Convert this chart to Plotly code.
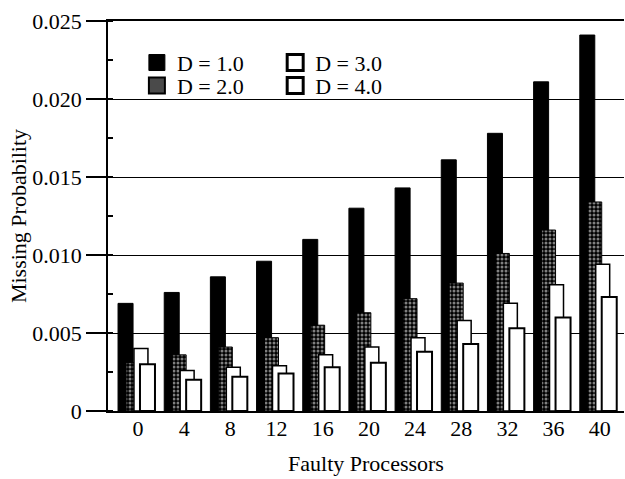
import plotly.graph_objects as go

processors = [0, 4, 8, 12, 16, 20, 24, 28, 32, 36, 40]
d1_values = [0.0069, 0.0076, 0.0086, 0.0096, 0.0110, 0.0130, 0.0143, 0.0161, 0.0178, 0.0211, 0.0241]
d2_values = [0.0031, 0.0036, 0.0041, 0.0047, 0.0055, 0.0063, 0.0072, 0.0082, 0.0101, 0.0116, 0.0134]
d3_values = [0.0040, 0.0026, 0.0028, 0.0029, 0.0036, 0.0041, 0.0047, 0.0058, 0.0069, 0.0081, 0.0094]
d4_values = [0.0030, 0.0020, 0.0022, 0.0024, 0.0028, 0.0031, 0.0038, 0.0043, 0.0053, 0.0060, 0.0073]
series_names = ["D = 1.0", "D = 2.0", "D = 3.0", "D = 4.0"]
y_tick_vals = [0, 0.005, 0.010, 0.015, 0.020, 0.025]
y_tick_text = ["0", "0.005", "0.010", "0.015", "0.020", "0.025"]

FONT = "Liberation Serif"

bar_styles = [
    dict(offset=-1.73, width=1.30,
         marker=dict(color="black", line=dict(color="black", width=1))),
    dict(offset=-1.04, width=1.21,
         marker=dict(color="black", line=dict(color="black", width=1),
                     pattern=dict(shape=".", bgcolor="black", fgcolor="white",
                                  size=4, solidity=0.45))),
    dict(offset=-0.35, width=1.21,
         marker=dict(color="white", line=dict(color="black", width=1.5))),
    dict(offset=0.17, width=1.30,
         marker=dict(color="white", line=dict(color="black", width=2))),
]
legend_markers = [
    dict(symbol="square", size=20, color="black", line=dict(color="black", width=1)),
    dict(symbol="square", size=20, color="#4a4a4a", line=dict(color="black", width=2)),
    dict(symbol="square", size=19, color="white", line=dict(color="black", width=3)),
    dict(symbol="square", size=19, color="white", line=dict(color="black", width=3)),
]
legend_ids = ["legend", "legend3", "legend2", "legend4"]

fig = go.Figure()
for vals, name, style in zip([d1_values, d2_values, d3_values, d4_values], series_names, bar_styles):
    fig.add_trace(go.Bar(x=processors, y=vals, name=name, showlegend=False, **style))

for name, mk, lid in zip(series_names, legend_markers, legend_ids):
    fig.add_trace(go.Scatter(x=[None], y=[None], mode="markers", name=name,
                             marker=mk, legend=lid, showlegend=True))

legend_common = dict(
    bgcolor="rgba(0,0,0,0)", borderwidth=0,
    font=dict(family=FONT, size=22, color="black"),
    yanchor="middle", xanchor="left", itemwidth=30,
)

fig.update_layout(
    width=625, height=479,
    margin=dict(l=108, r=1, t=21, b=68),
    paper_bgcolor="white", plot_bgcolor="white",
    barmode="overlay",
    font=dict(family=FONT, size=22, color="black"),
    legend=dict(x=0.056, y=0.893, **legend_common),
    legend3=dict(x=0.056, y=0.834, **legend_common),
    legend2=dict(x=0.324, y=0.893, **legend_common),
    legend4=dict(x=0.324, y=0.834, **legend_common),
    xaxis=dict(
        range=[-2.6, 42.1], automargin=False,
        tickvals=processors, ticktext=[str(p) for p in processors],
        ticks="", showgrid=False, zeroline=False,
        showline=True, linecolor="black", linewidth=1.5, mirror=True,
        ticklabelstandoff=-3,
        title=dict(text="Faulty Processors", font=dict(family=FONT, size=22), standoff=15),
        tickfont=dict(family=FONT, size=22),
    ),
    yaxis=dict(
        range=[0, 0.025], automargin=False,
        tickvals=y_tick_vals, ticktext=y_tick_text,
        ticks="outside", ticklen=20, tickwidth=1.5, tickcolor="black",
        minor=dict(ticks="inside", ticklen=5, dtick=0.0025, tickcolor="black", showgrid=False),
        showgrid=True, gridcolor="black", gridwidth=1.2,
        zeroline=False, showline=True, linecolor="black", linewidth=1.5,
        title=dict(text="Missing Probability", font=dict(family=FONT, size=22), standoff=0),
        tickfont=dict(family=FONT, size=22),
    ),
)

fig.write_html(
    "out.html",
    config={"displayModeBar": False},
    post_script="document.body.style.margin='0';document.body.style.overflow='hidden';",
)
